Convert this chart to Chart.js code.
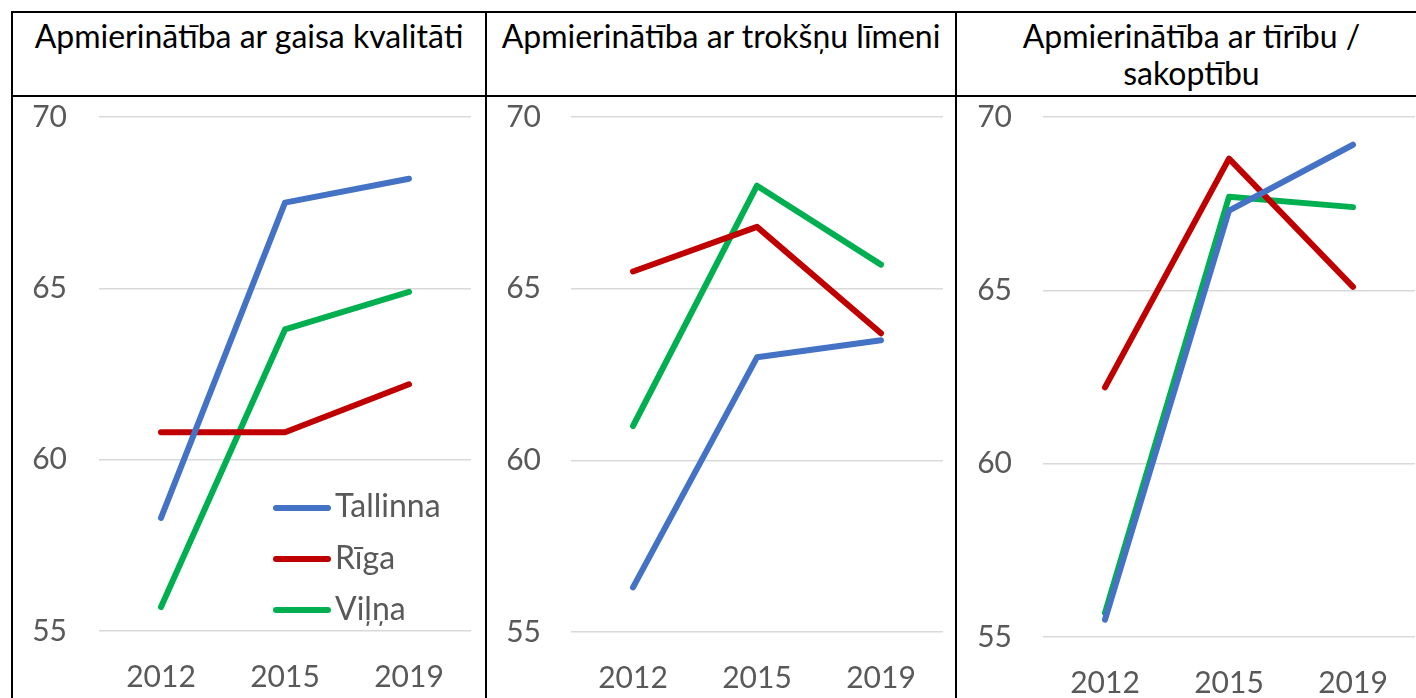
<!DOCTYPE html>
<html lang="lv">
<head>
<meta charset="utf-8">
<title>Apmierinātība</title>
<script src="https://cdn.jsdelivr.net/npm/chart.js@4/dist/chart.umd.min.js"></script>
<style>
  html, body { margin: 0; padding: 0; background: #fff; }
  body { position: relative; width: 1416px; height: 698px; overflow: hidden; font-family: Lato, "Open Sans", sans-serif; }
  .rule { position: absolute; background: #000; }
  .head { position: absolute; top: 17px; box-sizing: border-box; padding: 0 10px; text-align: center; font-size: 32px; line-height: 37px; color: #000; }
  canvas { position: absolute; top: 97px; }
  .legend { position: absolute; left: 0; top: 0; }
  .legend .swatch { position: absolute; height: 6px; border-radius: 3px; }
  .legend .name { position: absolute; font-size: 32px; line-height: 36px; color: #595959; white-space: nowrap; }
</style>
</head>
<body>
<div class="rule" style="left:11px;top:11px;width:1420px;height:2px"></div>
<div class="rule" style="left:11px;top:95px;width:1420px;height:2px"></div>
<div class="rule" style="left:11px;top:11px;width:2px;height:700px"></div>
<div class="rule" style="left:485px;top:11px;width:2px;height:700px"></div>
<div class="rule" style="left:955px;top:11px;width:2px;height:700px"></div>

<div class="head" id="h0" style="left:13px;width:472px"></div>
<div class="head" id="h1" style="left:487px;width:468px"></div>
<div class="head" id="h2" style="left:957px;width:469px"></div>

<canvas id="c0" width="472" height="601" style="left:13px"></canvas>
<canvas id="c1" width="468" height="601" style="left:487px"></canvas>
<canvas id="c2" width="459" height="601" style="left:957px"></canvas>

<div class="legend" id="legend"></div>

<script>
// Survey years and cities
const categories = ['2012', '2015', '2019'];
const cityNames = ['Tallinna', 'Rīga', 'Viļņa'];
const cityColors = ['#4472C4', '#C00000', '#00B050'];

// Panel titles
const titles = [
  'Apmierinātība ar gaisa kvalitāti',
  'Apmierinātība ar trokšņu līmeni',
  'Apmierinātība ar tīrību / sakoptību'
];

// Value axis
const yMin = 55;
const yMax = 70;
const yStep = 5;

// Satisfaction with air quality
const airTallinna = [58.3, 67.5, 68.2];
const airRiga     = [60.8, 60.8, 62.2];
const airVilna    = [55.7, 63.8, 64.9];

// Satisfaction with noise level
const noiseTallinna = [56.3, 63.0, 63.5];
const noiseRiga     = [65.5, 66.8, 63.7];
const noiseVilna    = [61.0, 68.0, 65.7];

// Satisfaction with cleanliness
const cleanTallinna = [55.5, 67.3, 69.2];
const cleanRiga     = [62.2, 68.8, 65.1];
const cleanVilna    = [55.7, 67.7, 67.4];

const panelSeries = [
  [airTallinna, airRiga, airVilna],
  [noiseTallinna, noiseRiga, noiseVilna],
  [cleanTallinna, cleanRiga, cleanVilna]
];

// Per-panel layout: y-axis width, label gap, x-axis height, padding
const panelLayout = [
  { axisW: 86, labelGap: 32, axisH: 67, padRight: 14, padTop: 20 },
  { axisW: 84, labelGap: 30, axisH: 66, padRight: 12, padTop: 20 },
  { axisW: 86, labelGap: 31, axisH: 61, padRight: 1, padTop: 20 }
];

const tickFont = { family: 'Lato', size: 30 };
const tickColor = '#595959';

titles.forEach((t, i) => { document.getElementById('h' + i).textContent = t; });

panelSeries.forEach((series, i) => {
  const L = panelLayout[i];
  new Chart(document.getElementById('c' + i), {
    type: 'line',
    data: {
      labels: categories,
      datasets: series.map((vals, k) => ({
        label: cityNames[k],
        data: vals,
        borderColor: cityColors[k],
        backgroundColor: cityColors[k],
        borderWidth: 6,
        borderCapStyle: 'round',
        borderJoinStyle: 'round',
        pointRadius: 0,
        tension: 0
      }))
    },
    options: {
      responsive: false,
      animation: false,
      layout: { autoPadding: false, padding: { top: L.padTop, right: L.padRight, left: 0, bottom: 0 } },
      plugins: { legend: { display: false }, tooltip: { enabled: false } },
      scales: {
        x: {
          offset: true,
          grid: { display: false, drawTicks: false },
          border: { display: false },
          ticks: { font: tickFont, color: tickColor, padding: 28, maxRotation: 0 },
          afterFit: s => { s.height = L.axisH; s.paddingLeft = 0; s.paddingRight = 0; }
        },
        y: {
          min: yMin,
          max: yMax,
          grid: { color: '#d9d9d9', lineWidth: 1.5, drawTicks: false },
          border: { display: false },
          ticks: { stepSize: yStep, font: tickFont, color: tickColor, padding: L.labelGap },
          afterFit: s => { s.width = L.axisW; s.paddingTop = 0; s.paddingBottom = 0; }
        }
      }
    }
  });
});

// Legend drawn inside the first panel
const legendRows = [
  { line: 508, base: 517 },
  { line: 559, base: 569 },
  { line: 610, base: 620 }
];
const legend = document.getElementById('legend');
cityNames.forEach((name, k) => {
  const sw = document.createElement('div');
  sw.className = 'swatch';
  sw.style.left = '273px';
  sw.style.width = '58px';
  sw.style.top = (legendRows[k].line - 3) + 'px';
  sw.style.background = cityColors[k];
  legend.appendChild(sw);
  const tx = document.createElement('div');
  tx.className = 'name';
  tx.style.left = '335px';
  tx.style.top = (legendRows[k].base - 30.4) + 'px';
  tx.textContent = name;
  legend.appendChild(tx);
});
</script>
</body>
</html>
